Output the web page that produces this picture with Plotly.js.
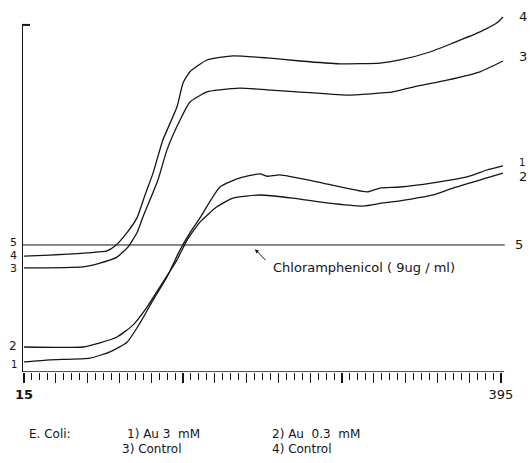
<!DOCTYPE html>
<html>
<head>
<meta charset="utf-8">
<script src="https://cdn.plot.ly/plotly-3.0.1.min.js"></script>
<style>html,body{margin:0;padding:0;background:#fff;}#chart{width:531px;height:463px;}</style>
</head>
<body>
<div id="chart"></div>
<script>
// Time (min) and relative turbidity readings
var x1 = [15, 35.7, 67.6, 83.5, 97.1, 107.4, 117.8, 128.9, 139.3, 147.2, 155.2, 171.1, 187.1, 203.0, 208.6, 218.9, 248.4, 288.2, 298.6, 314.5, 340.8, 367.9, 383.8, 396.6];
var y1 = [2.9, 3.5, 4.0, 5.8, 8.6, 14.1, 20.7, 27.4, 35.2, 40.1, 44.4, 53.3, 55.9, 57.1, 56.4, 56.8, 54.8, 51.9, 53.0, 53.3, 54.5, 56.2, 58.2, 59.4];

var x2 = [15, 62.0, 75.5, 89.1, 101.8, 113.0, 123.3, 136.9, 144.9, 155.2, 168.7, 181.5, 203.0, 229.3, 256.4, 285.1, 301.0, 314.5, 340.8, 356.8, 383.8, 396.6];
var y2 = [7.2, 7.2, 8.4, 10.1, 13.5, 18.7, 24.5, 32.3, 38.0, 43.2, 47.6, 50.1, 51.0, 50.1, 48.7, 47.8, 48.7, 49.3, 51.0, 53.0, 55.9, 57.3];

var x3 = [15, 62.0, 75.5, 89.1, 97.8, 105.0, 109.8, 121.7, 128.9, 139.3, 147.2, 160.8, 171.1, 187.1, 208.6, 232.5, 272.3, 309.0, 324.9, 352.0, 378.3, 396.6];
var y3 = [30.0, 30.3, 31.4, 33.1, 36.0, 40.1, 44.7, 55.3, 64.0, 72.6, 77.8, 80.7, 81.3, 81.8, 81.3, 80.7, 79.8, 80.7, 82.1, 84.1, 86.5, 89.6];

var x4 = [15, 35.7, 65.2, 81.1, 87.5, 96.3, 105.0, 111.4, 117.8, 125.7, 136.9, 141.7, 147.2, 160.8, 181.5, 208.6, 234.9, 266.7, 298.6, 314.5, 338.4, 356.8, 378.3, 391.8, 396.6];
var y4 = [33.4, 33.7, 34.3, 34.9, 36.3, 39.8, 44.4, 51.0, 57.3, 66.9, 76.4, 83.3, 86.5, 89.9, 91.1, 90.5, 89.6, 88.8, 89.0, 89.9, 92.2, 94.8, 98.0, 100.6, 102.3];

var chlorX = [13.4, 398];
var chlorY = [36.6, 36.6];

var seriesNames = ["Au 3  mM", "Au  0.3  mM", "Control", "Control"];
var organism = "E. Coli:";
var chlorLabel = "Chloramphenicol ( 9ug / ml)";
var xTickLabels = ["15", "395"];

var font = "DejaVu Sans, Liberation Sans, sans-serif";
var ink = "#151515";

var series = [[x1, y1], [x2, y2], [x3, y3], [x4, y4]];
var traces = series.map(function (s, i) {
  return {x: s[0], y: s[1], type: "scatter", mode: "lines", name: String(i + 1),
          line: {color: ink, width: 1.3, shape: "spline", smoothing: 0.5}, hoverinfo: "skip"};
});
traces.push({x: chlorX, y: chlorY, type: "scatter", mode: "lines", name: "5",
             line: {color: ink, width: 1}, hoverinfo: "skip"});

// ticks
var step = 380 / 60;
var tickvals = [], ticktext = [];
for (var k = 0; k <= 15; k++) {
  tickvals.push(15 + k * 4 * step);
  ticktext.push(k === 0 ? "<b>" + xTickLabels[0] + "</b>" : (k === 15 ? xTickLabels[1] : ""));
}

var ann = [];
// left start labels
var startLabels = [["1", y1[0] - 0.6, 10, 0], ["2", y2[0] + 0.3, 12, 0], ["3", y3[0], 11, -1], ["4", y4[0], 11, 1], ["5", chlorY[0], 11, 2]];
startLabels.forEach(function (l) {
  ann.push({x: 13.4, y: l[1], xref: "x", yref: "y", text: l[0], showarrow: false,
            xanchor: "right", yanchor: "middle", xshift: -3, yshift: l[3],
            font: {family: font, size: l[2], color: ink}});
});
// right end labels
var endLabels = [["1", y1[y1.length - 1], 3], ["2", y2[y2.length - 1], -3], ["3", y3[y3.length - 1], 5], ["4", y4[y4.length - 1], 0]];
endLabels.forEach(function (l) {
  ann.push({x: 396.6, y: l[1], xref: "x", yref: "y", text: l[0], showarrow: false,
            xanchor: "left", yanchor: "middle", xshift: 14, yshift: l[2],
            font: {family: font, size: l[0] === "1" ? 10 : 13, color: ink}});
});
ann.push({x: chlorX[1], y: chlorY[0], xref: "x", yref: "y", text: "5", showarrow: false,
          xanchor: "left", yanchor: "middle", xshift: 8, font: {family: font, size: 13, color: ink}});
// chloramphenicol label + arrow
ann.push({x: 199.0, y: 35.4, xref: "x", yref: "y", ax: 208.5, ay: 31.8, axref: "x", ayref: "y",
          text: "", showarrow: true, arrowhead: 2, arrowsize: 0.8, arrowwidth: 1, arrowcolor: ink});
ann.push({x: 211.5, y: 30.0, xref: "x", yref: "y", text: chlorLabel, showarrow: false,
          xanchor: "left", yanchor: "middle", font: {family: font, size: 13, color: ink}});
// bottom legend
function px2paperX(p) { return (p - 22) / 485; }
function py2paperY(p) { return (372 - p) / 362; }
ann.push({x: px2paperX(27), y: py2paperY(434), xref: "paper", yref: "paper", text: organism, showarrow: false,
          xanchor: "left", yanchor: "middle", font: {family: font, size: 12, color: ink}});
var legPos = [[125, 434], [270, 434], [120, 449], [270, 449]];
seriesNames.forEach(function (n, i) {
  ann.push({x: px2paperX(legPos[i][0]), y: py2paperY(legPos[i][1]), xref: "paper", yref: "paper",
            text: (i + 1) + ") " + n, showarrow: false, xanchor: "left", yanchor: "middle",
            font: {family: font, size: 12, color: ink}});
});

var layout = {
  width: 531, height: 463,
  margin: {l: 22, r: 24, t: 10, b: 91, pad: 0},
  paper_bgcolor: "#fff", plot_bgcolor: "#fff",
  showlegend: false,
  xaxis: {range: [13.4, 399.8], showgrid: false, zeroline: false, showline: false,
          tickmode: "array", tickvals: tickvals, ticktext: ticktext,
          ticks: "outside", ticklen: 10, tickwidth: 1.2, tickcolor: ink,
          tickfont: {family: font, size: 13, color: ink},
          minor: {tickmode: "linear", tick0: 15, dtick: step, ticks: "outside", ticklen: 7, tickwidth: 1, tickcolor: ink}},
  yaxis: {range: [0, 104.3], visible: false, showgrid: false, zeroline: false},
  shapes: [
    {type: "line", xref: "x", yref: "y", x0: 13.4, x1: 397.5, y0: 0, y1: 0, line: {color: ink, width: 1.5}},
    {type: "line", xref: "x", yref: "y", x0: 13.4, x1: 13.4, y0: 0, y1: 100, line: {color: ink, width: 2}},
    {type: "line", xref: "x", yref: "y", x0: 13.4, x1: 19.8, y0: 100, y1: 100, line: {color: ink, width: 2}}
  ],
  annotations: ann
};

Plotly.newPlot("chart", traces, layout, {staticPlot: true, displayModeBar: false});
</script>
</body>
</html>
